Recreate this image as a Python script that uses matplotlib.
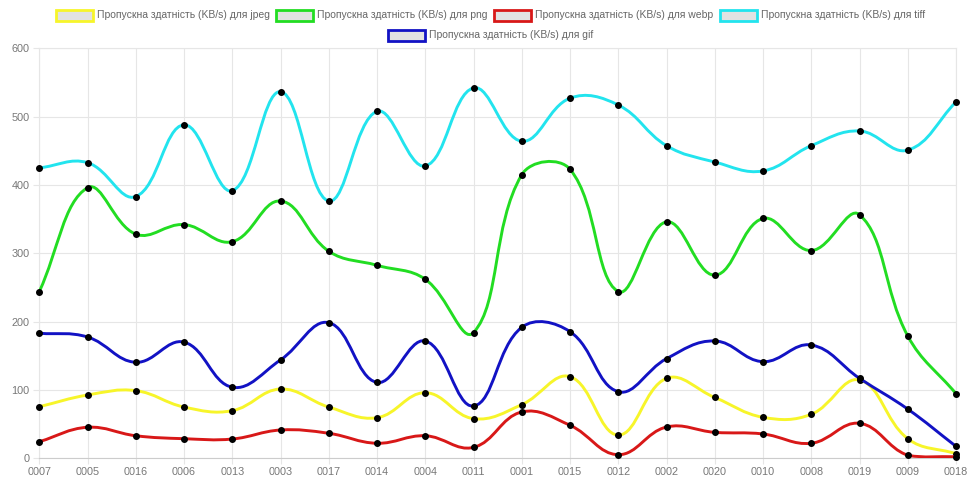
#!/usr/bin/env python

# Throughput per file id for the five image formats (Chart.js style line chart)

import numpy as np
import matplotlib
matplotlib.use('Agg')
import matplotlib.pyplot as plt
from matplotlib.path import Path
from matplotlib.patches import PathPatch, Rectangle

categories = ['0007', '0005', '0016', '0006', '0013', '0003', '0017', '0014', '0004', '0011',
              '0001', '0015', '0012', '0002', '0020', '0010', '0008', '0019', '0009', '0018']

jpegVals = [75.5, 92.6, 99, 75, 69.7, 101.4, 75, 59.4, 96, 58,
            78.5, 119.5, 34, 117, 89, 60, 64.4, 114.6, 28.7, 6.8]
pngVals = [244, 396, 328, 342, 317, 376.5, 303, 282.4, 262, 184,
           415, 423, 244, 346, 268, 351, 304, 356.5, 179, 94.6]
webpVals = [24.3, 45.4, 33, 28.7, 28.2, 41.4, 36.6, 22, 33, 16,
            67.8, 48.3, 5.3, 45.8, 38, 35.6, 22, 51.2, 4.4, 2.3]
tiffVals = [425, 432.6, 383, 488, 391.6, 536.5, 376.5, 507.8, 427.8, 542,
            464, 527, 517, 457.5, 433.6, 420.5, 457.5, 479, 451, 521.5]
gifVals = [183, 177.5, 140.5, 170, 104, 144, 198.5, 111, 171.7, 76.5,
           191.7, 185.3, 97.5, 145.8, 171.7, 141.4, 165.8, 117, 72, 17.5]

seriesLabels = ['Пропускна здатність (KB/s) для jpeg',
                'Пропускна здатність (KB/s) для png',
                'Пропускна здатність (KB/s) для webp',
                'Пропускна здатність (KB/s) для tiff',
                'Пропускна здатність (KB/s) для gif']
seriesData = [jpegVals, pngVals, webpVals, tiffVals, gifVals]
seriesColors = ['#f7f52a', '#22dd22', '#d81818', '#22e4ee', '#1212c4']

yMin = 0
yMax = 600

plt.rcParams['font.family'] = ['Liberation Sans', 'DejaVu Sans']

########################################################################
# Chart.js style spline (tension 0.4) built in display space

def splinePath(ax, xs, ys, tension=0.4):

    pts = ax.transData.transform(np.column_stack([xs, ys]).astype(float))
    nPts = len(pts)
    ctrlPrev = pts.copy()
    ctrlNext = pts.copy()
    for ii in range(nPts):
        cur = pts[ii]
        prev = pts[ii - 1] if ii > 0 else cur
        nxt = pts[ii + 1] if ii < nPts - 1 else cur
        d01 = np.hypot(*(cur - prev))
        d12 = np.hypot(*(nxt - cur))
        tot = d01 + d12
        s01 = d01 / tot if tot > 0 else 0.0
        s12 = d12 / tot if tot > 0 else 0.0
        ctrlPrev[ii] = cur - tension * s01 * (nxt - prev)
        ctrlNext[ii] = cur + tension * s12 * (nxt - prev)

    inv = ax.transData.inverted()
    pData = inv.transform(pts)
    cpData = inv.transform(ctrlPrev)
    cnData = inv.transform(ctrlNext)
    cpData[:, 1] = np.clip(cpData[:, 1], yMin, yMax)
    cnData[:, 1] = np.clip(cnData[:, 1], yMin, yMax)

    verts = [pData[0]]
    codes = [Path.MOVETO]
    for ii in range(nPts - 1):
        verts += [cnData[ii], cpData[ii + 1], pData[ii + 1]]
        codes += [Path.CURVE4] * 3
    return Path(verts, codes)

########################################################################
# Plot

fig = plt.figure(figsize=(9.69, 4.79), dpi=100)
fig.patch.set_facecolor('white')

axL = 39.3 / 969
axR = 956.0 / 969
axB = 1 - 458.3 / 479
axT = 1 - 48.3 / 479
ax = fig.add_axes([axL, axB, axR - axL, axT - axB])

xIdx = np.arange(len(categories))
ax.set_xlim(0, len(categories) - 1)
ax.set_ylim(yMin, yMax)

gridColor = '#e6e6e6'
ax.set_xticks(xIdx)
ax.set_xticklabels(categories)
ax.set_yticks(np.arange(0, 601, 100))
ax.grid(True, color=gridColor, linewidth=0.8)
ax.set_axisbelow(True)
for side in ['top', 'right', 'left']:
    ax.spines[side].set_color(gridColor)
    ax.spines[side].set_linewidth(0.8)
ax.spines['bottom'].set_color('#cccccc')
ax.spines['bottom'].set_linewidth(0.8)
ax.tick_params(axis='both', colors=gridColor, length=4, width=0.8,
               labelcolor='#777777', labelsize=7.8)
ax.tick_params(axis='x', pad=2)
ax.tick_params(axis='y', pad=3)

# later datasets end up on top
for ii in range(len(seriesData)):
    zo = 10 + 2 * ii
    path = splinePath(ax, xIdx, seriesData[ii])
    ax.add_patch(PathPatch(path, facecolor='none', edgecolor=seriesColors[ii],
                           linewidth=2.1, zorder=zo, capstyle='round',
                           joinstyle='round'))
    ax.plot(xIdx, seriesData[ii], linestyle='', marker='o', markersize=4.0,
            color='black', zorder=zo + 1, clip_on=False)

# legend, two centred rows like Chart.js
boxW = 37.0
boxH = 11.0
legendItems = [(56, 15.5, 0), (276, 15.5, 1), (494, 15.5, 2), (720, 15.5, 3),
               (388, 35.5, 4)]
for (bx, by, ii) in legendItems:
    rect = Rectangle((bx / 969, 1 - (by + boxH / 2) / 479), boxW / 969, boxH / 479,
                     transform=fig.transFigure, facecolor='#e2e2e2',
                     edgecolor=seriesColors[ii], linewidth=2.0)
    fig.patches.append(rect)
    fig.text((bx + boxW + 4) / 969, 1 - by / 479, seriesLabels[ii],
             ha='left', va='center', fontsize=7.5, color='#666666')

fig.savefig('out.png', dpi=100, facecolor='white')
